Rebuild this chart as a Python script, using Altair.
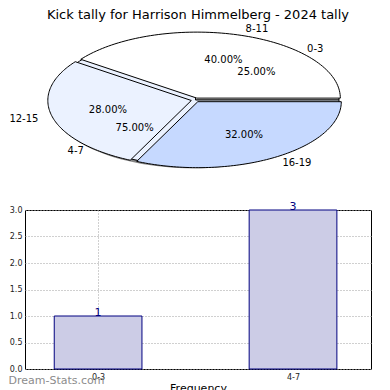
import altair as alt
import pandas as pd

# ---------------- data ----------------
title_text = "Kick tally for Harrison Himmelberg - 2024 tally"
pie_a_labels = ["0-3", "4-7"]
pie_a_values = [25, 75]
pie_a_fills = ["#FFFFFF", "#EBF2FF"]
pie_b_labels = ["8-11", "12-15", "16-19"]
pie_b_values = [40, 28, 32]
pie_b_fills = ["#FFFFFF", "#EBF2FF", "#C6D9FF"]
bar_categories = ["0-3", "4-7"]
bar_values = [1, 3]
y_ticks = [0.0, 0.5, 1.0, 1.5, 2.0, 2.5, 3.0]
x_title = "Frequency"
watermark = "Dream-Stats.com"

FONT = "DejaVu Sans"

rows = []
for i, (l, v, f) in enumerate(zip(pie_a_labels, pie_a_values, pie_a_fills)):
    rows.append({"pie": "A", "order": i, "label": l, "value": v, "fill": f, "explode": 0.0})
for i, (l, v, f) in enumerate(zip(pie_b_labels, pie_b_values, pie_b_fills)):
    rows.append({"pie": "B", "order": i, "label": l, "value": v, "fill": f, "explode": 0.03})
pie_df = pd.DataFrame(rows)

bar_df = pd.DataFrame({"cat": bar_categories, "idx": list(range(len(bar_categories))), "value": bar_values})

# ---------------- pie panel ----------------
N = 90
PW, PH = 346, 162
AX, BY = 143.5, 66.0
xs = alt.Scale(domain=[-170.5 / AX, 175.5 / AX], nice=False, zero=False)
ys = alt.Scale(domain=[-91 / BY, 71 / BY], nice=False, zero=False)

base = (
    alt.Chart(pie_df)
    .transform_joinaggregate(total="sum(value)", groupby=["pie"])
    .transform_window(cum="sum(value)", sort=[alt.SortField("order")], groupby=["pie"])
    .transform_calculate(
        a0="2*PI*(datum.cum - datum.value)/datum.total",
        a1="2*PI*datum.cum/datum.total",
        am="(datum.a0 + datum.a1)/2",
        ox="datum.explode*cos(datum.am)",
        oy="datum.explode*sin(datum.am)",
        pct="format(100*datum.value/datum.total, '.2f') + '%'",
    )
)


def wedges(pie, dx=0.0, dy=0.0):
    return (
        base.transform_filter(f"datum.pie == '{pie}'")
        .transform_calculate(k=f"sequence(0, {N + 3})")
        .transform_flatten(["k"])
        .transform_calculate(
            ang=f"datum.a0 + (datum.a1 - datum.a0)*clamp((datum.k - 1)/{N}, 0, 1)",
            edge=f"(datum.k == 0 || datum.k == {N + 2}) ? 0 : 1",
            px=f"datum.ox + datum.edge*cos(datum.ang) + ({dx})",
            py=f"datum.oy + datum.edge*sin(datum.ang) + ({dy})",
        )
    )


enc = dict(
    x=alt.X("px:Q", scale=xs, axis=None),
    y=alt.Y("py:Q", scale=ys, axis=None),
    order=alt.Order("k:Q"),
    detail="label:N",
)

shadow = wedges("A", -0.015, -0.035).mark_line(
    fill="#333333", fillOpacity=0.6, stroke="transparent", strokeWidth=0
).encode(**enc)

pie_a = wedges("A").mark_line(stroke="black", strokeWidth=1).encode(
    fill=alt.Fill("fill:N", scale=None), **enc
)
pie_b = wedges("B").mark_line(stroke="black", strokeWidth=1).encode(
    fill=alt.Fill("fill:N", scale=None), **enc
)

lab = base.transform_calculate(
    lx="datum.ox + 1.1*cos(datum.am)",
    ly="datum.oy + 1.1*sin(datum.am)",
    qx="datum.ox + 0.6*cos(datum.am)",
    qy="datum.oy + 0.6*sin(datum.am)",
)
txt = dict(font=FONT, fontSize=10, color="black", baseline="middle")
lab_left = lab.transform_filter("datum.lx >= 0").mark_text(align="left", **txt).encode(
    x=alt.X("lx:Q", scale=xs, axis=None), y=alt.Y("ly:Q", scale=ys, axis=None), text="label:N"
)
lab_right = lab.transform_filter("datum.lx < 0").mark_text(align="right", **txt).encode(
    x=alt.X("lx:Q", scale=xs, axis=None), y=alt.Y("ly:Q", scale=ys, axis=None), text="label:N"
)
lab_pct = lab.mark_text(align="center", **txt).encode(
    x=alt.X("qx:Q", scale=xs, axis=None), y=alt.Y("qy:Q", scale=ys, axis=None), text="pct:N"
)

pie_panel = alt.layer(shadow, pie_a, pie_b, lab_left, lab_right, lab_pct).properties(
    width=PW,
    height=PH,
    title=alt.TitleParams(title_text, font=FONT, fontSize=13, fontWeight="normal", color="black",
                          anchor="middle", offset=2),
    view=alt.ViewBackground(stroke="transparent"),
)

# ---------------- bar panel ----------------
label_expr = "[" + ",".join("'" + c + "'" for c in bar_categories) + "][datum.value]"
xb = alt.Scale(domain=[-0.375, len(bar_categories) - 1 + 0.4], nice=False, zero=False)
yb = alt.Scale(domain=[y_ticks[0], y_ticks[-1]], nice=False, zero=False)

x_axis = alt.Axis(
    values=list(range(len(bar_categories))),
    labelExpr=label_expr,
    grid=True,
    gridDash=[1, 2],
    gridColor="#A0A0A0",
    ticks=False,
    domain=False,
    labelFont=FONT,
    labelFontSize=8,
    labelColor="#222222",
    labelPadding=4,
    titleFont=FONT,
    titleFontSize=11,
    titleFontWeight="normal",
    titleColor="black",
    titlePadding=1,
)
y_axis = alt.Axis(
    values=y_ticks,
    format=".1f",
    grid=True,
    gridDash=[1, 2],
    gridColor="#A0A0A0",
    ticks=False,
    domain=False,
    labelFont=FONT,
    labelFontSize=8,
    labelColor="#222222",
    labelPadding=3,
    labelOverlap=False,
    minExtent=16,
    maxExtent=16,
)

bars = (
    alt.Chart(bar_df)
    .transform_calculate(x0="datum.idx - 0.225", x1="datum.idx + 0.225", y0="0")
    .mark_bar(fill="#CCCCE6", stroke="#000080", strokeWidth=1)
    .encode(
        x=alt.X("x0:Q", scale=xb, title=x_title, axis=x_axis),
        x2="x1:Q",
        y=alt.Y("value:Q", scale=yb, title=None, axis=y_axis),
        y2="y0:Q",
    )
)

bar_text = alt.Chart(bar_df).mark_text(
    font=FONT, fontSize=11, color="#000080", baseline="alphabetic", align="center"
).encode(
    x=alt.X("idx:Q", scale=xb, title=x_title, axis=x_axis),
    y=alt.Y("value:Q", scale=yb, title=None, axis=y_axis),
    text="value:Q",
)

bar_panel = alt.layer(bars, bar_text).properties(
    width=346,
    height=159,
    view=alt.ViewBackground(stroke="black", strokeWidth=1),
)

chart = alt.vconcat(
    pie_panel,
    bar_panel,
    spacing=19,
    bounds="flush",
).properties(
    padding=0,
    title=alt.TitleParams(watermark, orient="bottom", anchor="start", frame="bounds",
                          font=FONT, fontSize=11, color="#8C8C8C", fontWeight="normal", offset=-19),
).configure(background="white")

chart.save("out.html", embed_options={"renderer": "svg", "actions": False})
